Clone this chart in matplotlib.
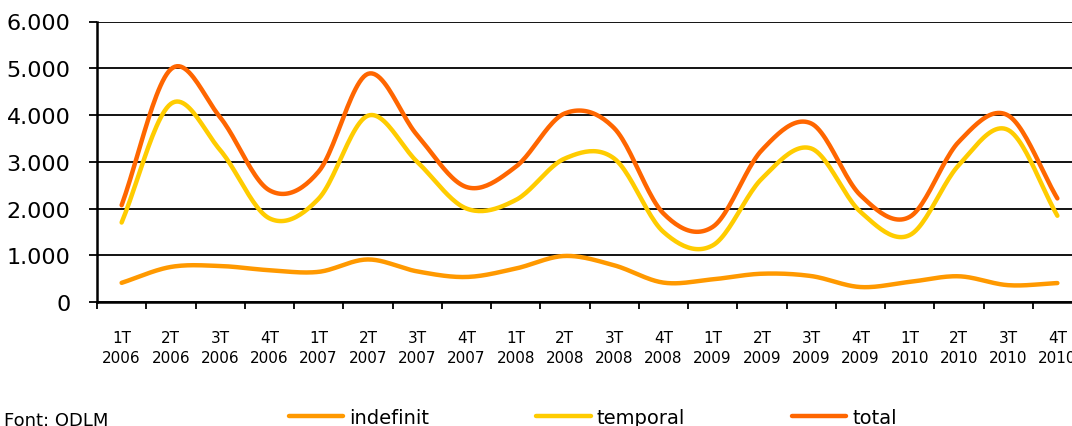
import numpy as np
import matplotlib.pyplot as plt

plt.rcParams['font.family'] = ['DejaVu Sans']

# trimestres 2006-2010
quarters = ['1T', '2T', '3T', '4T'] * 5
years = ['2006'] * 4 + ['2007'] * 4 + ['2008'] * 4 + ['2009'] * 4 + ['2010'] * 4
tick_labels = [f"{q}\n{y}" for q, y in zip(quarters, years)]

indefinit = [410, 750, 770, 680, 645, 910, 655, 535, 715, 985,
             785, 415, 485, 605, 555, 320, 430, 550, 360, 405]
temporal = [1700, 4240, 3250, 1790, 2210, 3985, 3000, 2000, 2180, 3070,
            3070, 1500, 1210, 2640, 3285, 1930, 1430, 2930, 3680, 1845]
total = [2070, 4980, 3950, 2390, 2790, 4880, 3570, 2460, 2890, 4035,
         3720, 1895, 1605, 3250, 3820, 2285, 1820, 3430, 3990, 2215]

series = [("indefinit", indefinit, "#FF9900"),
          ("temporal", temporal, "#FFCC00"),
          ("total", total, "#FF6600")]


def smooth(x, y, n=24):
    # corba suavitzada tipus Catmull-Rom (com Excel)
    x = np.asarray(x, float)
    y = np.asarray(y, float)
    px = np.concatenate([[2 * x[0] - x[1]], x, [2 * x[-1] - x[-2]]])
    py = np.concatenate([[2 * y[0] - y[1]], y, [2 * y[-1] - y[-2]]])
    xs, ys = [], []
    t = np.linspace(0, 1, n, endpoint=False)
    for i in range(1, len(px) - 2):
        for p, out in ((px, xs), (py, ys)):
            p0, p1, p2, p3 = p[i - 1], p[i], p[i + 1], p[i + 2]
            out.extend(0.5 * ((2 * p1) + (-p0 + p2) * t
                              + (2 * p0 - 5 * p1 + 4 * p2 - p3) * t ** 2
                              + (-p0 + 3 * p1 - 3 * p2 + p3) * t ** 3))
    xs.append(x[-1])
    ys.append(y[-1])
    return np.array(xs), np.array(ys)


fig = plt.figure(figsize=(10.72, 4.27), dpi=100)
ax = fig.add_axes([97 / 1072, 124 / 427, 985 / 1072, 280.5 / 427])

x = np.arange(len(total))
for name, vals, col in series:
    sx, sy = smooth(x, vals)
    ax.plot(sx, sy, color=col, lw=3.2, label=name, solid_capstyle='round', zorder=3)

ax.set_xlim(-0.5, len(total) - 0.5)
ax.set_ylim(0, 6000)
ax.set_yticks(np.arange(0, 6001, 1000))
ax.set_yticklabels([f"{v:,}".replace(",", ".") for v in range(0, 6001, 1000)], fontsize=16)
ax.yaxis.grid(True, color='black', lw=1.3)
ax.set_axisbelow(True)

ax.set_xticks(np.arange(-0.5, len(total), 1.0))
ax.set_xticklabels([])
ax.set_xticks(x, minor=True)
ax.set_xticklabels(tick_labels, minor=True, fontsize=11, linespacing=1.45)
ax.tick_params(axis='x', which='major', direction='out', length=5, width=1.3)
ax.tick_params(axis='x', which='minor', length=0, pad=20)
ax.tick_params(axis='y', direction='out', length=6, width=1.3, pad=13)

for s in ['top', 'right']:
    ax.spines[s].set_visible(False)
for s in ['left', 'bottom']:
    ax.spines[s].set_linewidth(1.8)
    ax.spines[s].set_color('black')

fig.legend(loc='center', bbox_to_anchor=(0.553, 0.02), ncol=3, frameon=False,
           fontsize=14, handlelength=2.8, handletextpad=0.3, columnspacing=5.5)
fig.text(0.004, 0.003, "Font: ODLM", fontsize=13, va='baseline', ha='left')

fig.savefig("out.png", dpi=100)
